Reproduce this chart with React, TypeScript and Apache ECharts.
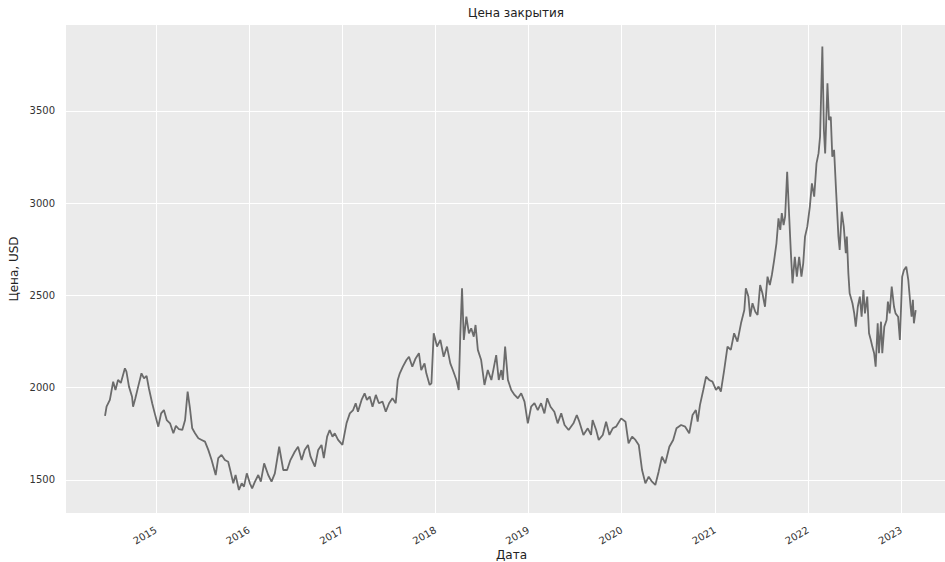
import React, { useEffect, useRef } from "react";
import * as echarts from "echarts";

// Closing price (USD)
const dates: string[] = [
  "2014-06-15", "2014-06-21", "2014-07-04", "2014-07-17", "2014-07-26", "2014-08-05", "2014-08-16", "2014-09-01",
  "2014-09-07", "2014-09-17", "2014-09-29", "2014-10-03", "2014-10-12", "2014-10-23", "2014-11-05", "2014-11-15",
  "2014-11-25", "2014-12-04", "2014-12-17", "2014-12-27",
  "2015-01-10", "2015-01-21", "2015-02-01", "2015-02-12", "2015-02-25", "2015-03-10", "2015-03-20", "2015-04-01",
  "2015-04-14", "2015-04-25", "2015-05-05", "2015-05-14", "2015-05-23", "2015-06-03", "2015-06-16", "2015-06-29",
  "2015-07-12", "2015-07-25", "2015-08-07", "2015-08-23", "2015-09-02", "2015-09-15", "2015-09-28", "2015-10-11",
  "2015-10-22", "2015-10-31", "2015-11-09", "2015-11-22", "2015-12-03", "2015-12-12", "2015-12-23",
  "2016-01-04", "2016-01-13", "2016-01-24", "2016-02-06", "2016-02-16", "2016-02-29", "2016-03-16", "2016-03-29",
  "2016-04-11", "2016-04-28", "2016-05-14", "2016-05-29", "2016-06-11", "2016-06-28", "2016-07-11", "2016-07-25",
  "2016-08-06", "2016-08-19", "2016-08-29", "2016-09-15", "2016-09-28", "2016-10-11", "2016-10-20", "2016-11-02",
  "2016-11-12", "2016-11-23", "2016-12-02", "2016-12-15",
  "2017-01-01", "2017-01-17", "2017-01-30", "2017-02-12", "2017-02-22", "2017-03-03", "2017-03-17", "2017-03-29",
  "2017-04-07", "2017-04-18", "2017-04-29", "2017-05-12", "2017-05-24", "2017-06-07", "2017-06-20", "2017-07-03",
  "2017-07-16", "2017-07-29", "2017-08-06", "2017-08-14", "2017-08-26", "2017-09-09", "2017-09-19", "2017-10-02",
  "2017-10-15", "2017-10-28", "2017-11-06", "2017-11-19", "2017-11-26", "2017-12-09", "2017-12-16", "2017-12-25",
  "2018-01-07", "2018-01-20", "2018-02-02", "2018-02-15", "2018-02-28", "2018-03-10", "2018-03-24", "2018-04-02",
  "2018-04-08", "2018-04-15", "2018-04-22", "2018-05-02", "2018-05-12", "2018-05-21", "2018-05-31", "2018-06-07",
  "2018-06-16", "2018-06-29", "2018-07-12", "2018-07-25", "2018-08-08", "2018-08-17", "2018-08-27", "2018-09-06",
  "2018-09-16", "2018-09-22", "2018-10-01", "2018-10-12", "2018-10-25", "2018-11-07", "2018-11-20", "2018-12-03",
  "2018-12-16", "2018-12-29",
  "2019-01-11", "2019-01-24", "2019-02-06", "2019-02-19", "2019-03-04", "2019-03-15", "2019-03-28", "2019-04-12",
  "2019-04-25", "2019-05-09", "2019-05-22", "2019-06-07", "2019-06-26", "2019-07-09", "2019-07-19", "2019-08-04",
  "2019-08-21", "2019-09-03", "2019-09-09", "2019-09-23", "2019-10-03", "2019-10-19", "2019-11-01", "2019-11-14",
  "2019-11-27", "2019-12-10", "2019-12-30",
  "2020-01-16", "2020-01-28", "2020-02-11", "2020-02-24", "2020-03-08", "2020-03-21", "2020-04-03", "2020-04-16",
  "2020-04-29", "2020-05-12", "2020-05-25", "2020-06-07", "2020-06-20", "2020-07-06", "2020-07-21", "2020-08-03",
  "2020-08-21", "2020-09-06", "2020-09-22", "2020-10-05", "2020-10-18", "2020-10-25", "2020-11-03", "2020-11-16",
  "2020-11-27", "2020-12-09", "2020-12-22",
  "2021-01-05", "2021-01-15", "2021-01-24", "2021-02-06", "2021-02-19", "2021-03-04", "2021-03-17", "2021-03-30",
  "2021-04-13", "2021-04-26", "2021-05-02", "2021-05-12", "2021-05-19", "2021-05-28", "2021-06-08", "2021-06-17",
  "2021-06-27", "2021-07-06", "2021-07-16", "2021-07-26", "2021-08-04", "2021-08-12", "2021-08-21", "2021-08-30",
  "2021-09-07", "2021-09-14", "2021-09-20", "2021-09-27", "2021-10-03", "2021-10-11", "2021-10-19", "2021-10-25",
  "2021-11-01", "2021-11-10", "2021-11-18", "2021-11-27", "2021-12-06", "2021-12-13", "2021-12-20", "2021-12-29",
  "2022-01-08", "2022-01-16", "2022-01-25", "2022-02-03", "2022-02-11", "2022-02-17", "2022-02-26", "2022-03-04",
  "2022-03-09", "2022-03-18", "2022-03-24", "2022-03-31", "2022-04-06", "2022-04-13", "2022-04-20", "2022-04-30",
  "2022-05-05", "2022-05-13", "2022-05-21", "2022-05-29", "2022-06-02", "2022-06-08", "2022-06-13", "2022-06-24",
  "2022-07-01", "2022-07-07", "2022-07-15", "2022-07-23", "2022-07-30", "2022-08-06", "2022-08-12", "2022-08-21",
  "2022-08-28", "2022-09-04", "2022-09-10", "2022-09-17", "2022-09-23", "2022-10-01", "2022-10-06", "2022-10-14",
  "2022-10-19", "2022-10-27", "2022-11-05", "2022-11-10", "2022-11-17", "2022-11-25", "2022-12-04", "2022-12-10",
  "2022-12-20", "2022-12-27",
  "2023-01-05", "2023-01-12", "2023-01-21", "2023-01-29", "2023-02-07", "2023-02-11", "2023-02-16", "2023-02-20",
  "2023-02-27",
];

const prices: number[] = [
  1847, 1897, 1934, 2033, 1988, 2042, 2026, 2105,
  2087, 2006, 1951, 1897, 1943, 2006, 2078, 2051,
  2064, 1997, 1916, 1861,
  1789, 1861, 1879, 1825, 1807, 1753, 1793, 1775,
  1771, 1825, 1979, 1889, 1780, 1753, 1726, 1717,
  1708, 1663, 1608, 1527, 1618, 1636, 1608, 1599,
  1536, 1482, 1527, 1446, 1482, 1464, 1536,
  1482, 1455, 1491, 1527, 1491, 1590, 1527, 1491,
  1536, 1680, 1554, 1554, 1608, 1653, 1680, 1608,
  1663, 1690, 1626, 1572, 1663, 1690, 1618, 1735,
  1771, 1735, 1753, 1717,
  1690, 1807, 1861, 1879, 1916, 1870, 1934, 1970,
  1934, 1952, 1897, 1961, 1916, 1925, 1870, 1916,
  1943, 1916, 2042, 2078, 2114, 2150, 2168, 2114,
  2159, 2187, 2096, 2132, 2078, 2015, 2024, 2295,
  2223, 2259, 2168, 2223, 2132, 2096, 2042, 1988,
  2277, 2539, 2259, 2385, 2295, 2322, 2277, 2340,
  2205, 2150, 2015, 2096, 2042, 2105, 2177, 2042,
  2096, 2042, 2223, 2042, 1988, 1961, 1943, 1970,
  1925, 1807,
  1897, 1916, 1879, 1916, 1861, 1943, 1897, 1870,
  1807, 1861, 1798, 1771, 1807, 1852, 1816, 1744,
  1780, 1744, 1825, 1771, 1717, 1744, 1816, 1744,
  1780, 1789, 1834,
  1816, 1699, 1735, 1717, 1690, 1554, 1482, 1518,
  1491, 1473, 1545, 1626, 1590, 1680, 1717, 1780,
  1798, 1789, 1753, 1852, 1879, 1816, 1906, 1988,
  2060, 2042, 2033,
  1988, 2006, 1979, 2096, 2223, 2205, 2295, 2250,
  2349, 2421, 2539, 2494, 2385, 2458, 2412, 2394,
  2557, 2512, 2439, 2602, 2557, 2611, 2692, 2783,
  2918, 2855, 2946, 2882, 2927, 3171, 2927, 2747,
  2566, 2710, 2602, 2710, 2602, 2674, 2819, 2873,
  2981, 3108, 3036, 3216, 3270, 3361, 3849, 3397,
  3270, 3650, 3451, 3469, 3252, 3289, 3090, 2819,
  2747, 2954, 2873, 2729, 2819, 2620, 2512, 2458,
  2403, 2331, 2439, 2494, 2385, 2530, 2403, 2494,
  2295, 2259, 2223, 2187, 2114, 2349, 2187, 2358,
  2187, 2331, 2367, 2467, 2403, 2548, 2439, 2403,
  2385, 2259,
  2602, 2638, 2656, 2584, 2439, 2385, 2476, 2349,
  2421,
];

const yearTicks: number[] = [2015, 2016, 2017, 2018, 2019, 2020, 2021, 2022, 2023];
const priceTicks: number[] = [1500, 2000, 2500, 3000, 3500];

const toTs = (s: string) => {
  const [y, m, d] = s.split("-").map(Number);
  return Date.UTC(y, m - 1, d);
};

export default function App() {
  const ref = useRef<HTMLDivElement>(null);

  useEffect(() => {
    document.body.style.margin = "0";
    const chart = echarts.init(ref.current as HTMLDivElement, null, { renderer: "svg" });
    const data = dates.map((d, i) => [toTs(d), prices[i]]);
    const yearTs = yearTicks.map((y) => Date.UTC(y, 0, 1));

    chart.setOption({
      animation: false,
      backgroundColor: "#ffffff",
      title: {
        text: "Цена закрытия",
        left: 511,
        top: 2,
        textAlign: "center",
        textStyle: {
          fontFamily: "DejaVu Sans",
          fontSize: 12,
          fontWeight: "normal",
          color: "#222222",
        },
      },
      grid: {
        left: 66,
        right: -12,
        top: 25,
        bottom: 49,
        show: true,
        backgroundColor: "#ebebeb",
        borderWidth: 0,
        containLabel: false,
        outerBoundsMode: "none",
      },
      xAxis: {
        type: "value",
        min: Date.UTC(2014, 0, 13),
        max: Date.UTC(2023, 7, 8),
        name: "Дата",
        nameLocation: "middle",
        nameGap: 36,
        nameMoveOverlap: false,
        nameTextStyle: { fontFamily: "DejaVu Sans", fontSize: 12, color: "#222222" },
        axisLine: { show: false },
        axisTick: { show: false, customValues: yearTs },
        axisLabel: {
          customValues: yearTs,
          rotate: 30,
          margin: 16,
          fontFamily: "DejaVu Sans",
          fontSize: 10,
          color: "#333333",
          formatter: (v: number) => String(new Date(v).getUTCFullYear()),
        },
        splitLine: { show: true, lineStyle: { color: "#ffffff", width: 1 } },
      },
      yAxis: {
        type: "value",
        min: 1321,
        max: 3966,
        name: "Цена, USD",
        nameLocation: "middle",
        nameGap: 46,
        nameMoveOverlap: false,
        nameTextStyle: { fontFamily: "DejaVu Sans", fontSize: 12, color: "#222222" },
        axisLine: { show: false },
        axisTick: { show: false, customValues: priceTicks },
        axisLabel: {
          customValues: priceTicks,
          margin: 11,
          fontFamily: "DejaVu Sans",
          fontSize: 10,
          color: "#333333",
          formatter: (v: number) => String(v),
        },
        splitLine: { show: true, lineStyle: { color: "#ffffff", width: 1 } },
      },
      series: [
        {
          type: "line",
          data,
          showSymbol: false,
          symbol: "none",
          lineStyle: { color: "#6b6b6b", width: 1.8 },
          clip: true,
        },
      ],
    });

    return () => chart.dispose();
  }, []);

  return <div ref={ref} style={{ width: 945, height: 562 }} />;
}
